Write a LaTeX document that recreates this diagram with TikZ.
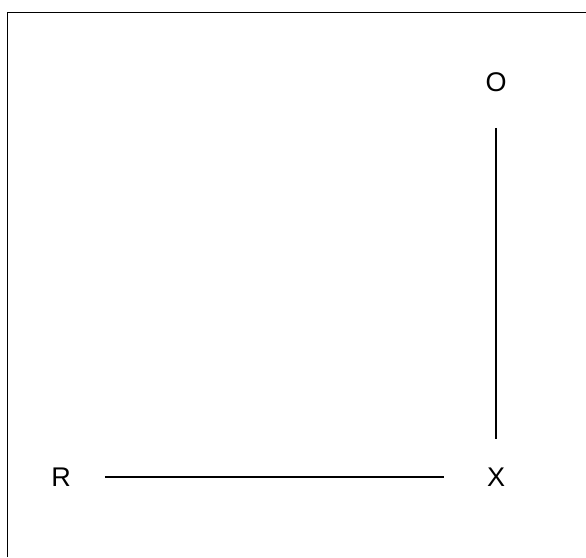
\documentclass[tikz,border=0pt]{standalone}
\usepackage{fontspec}
\setmainfont{Liberation Sans}
\tikzset{
  lbl/.style={inner sep=0pt, font=\fontsize{27}{30}\selectfont},
  link/.style={line width=1.6pt}
}
\begin{document}
\begin{tikzpicture}[x=1pt,y=1pt]
  \useasboundingbox (0,0) rectangle (586,557);
  \draw[line width=1.4pt] (7.5,0) -- (7.5,544.5) -- (586,544.5);
  \node[lbl] (O) at (496,475) {O};
  \node[lbl] (R) at (61,80) {R};
  \node[lbl] (X) at (496,80) {X};
  \draw[link, shorten <=36pt, shorten >=29pt] (O) -- (X);
  \draw[link, shorten <=34pt, shorten >=43pt] (R) -- (X);
\end{tikzpicture}
\end{document}
